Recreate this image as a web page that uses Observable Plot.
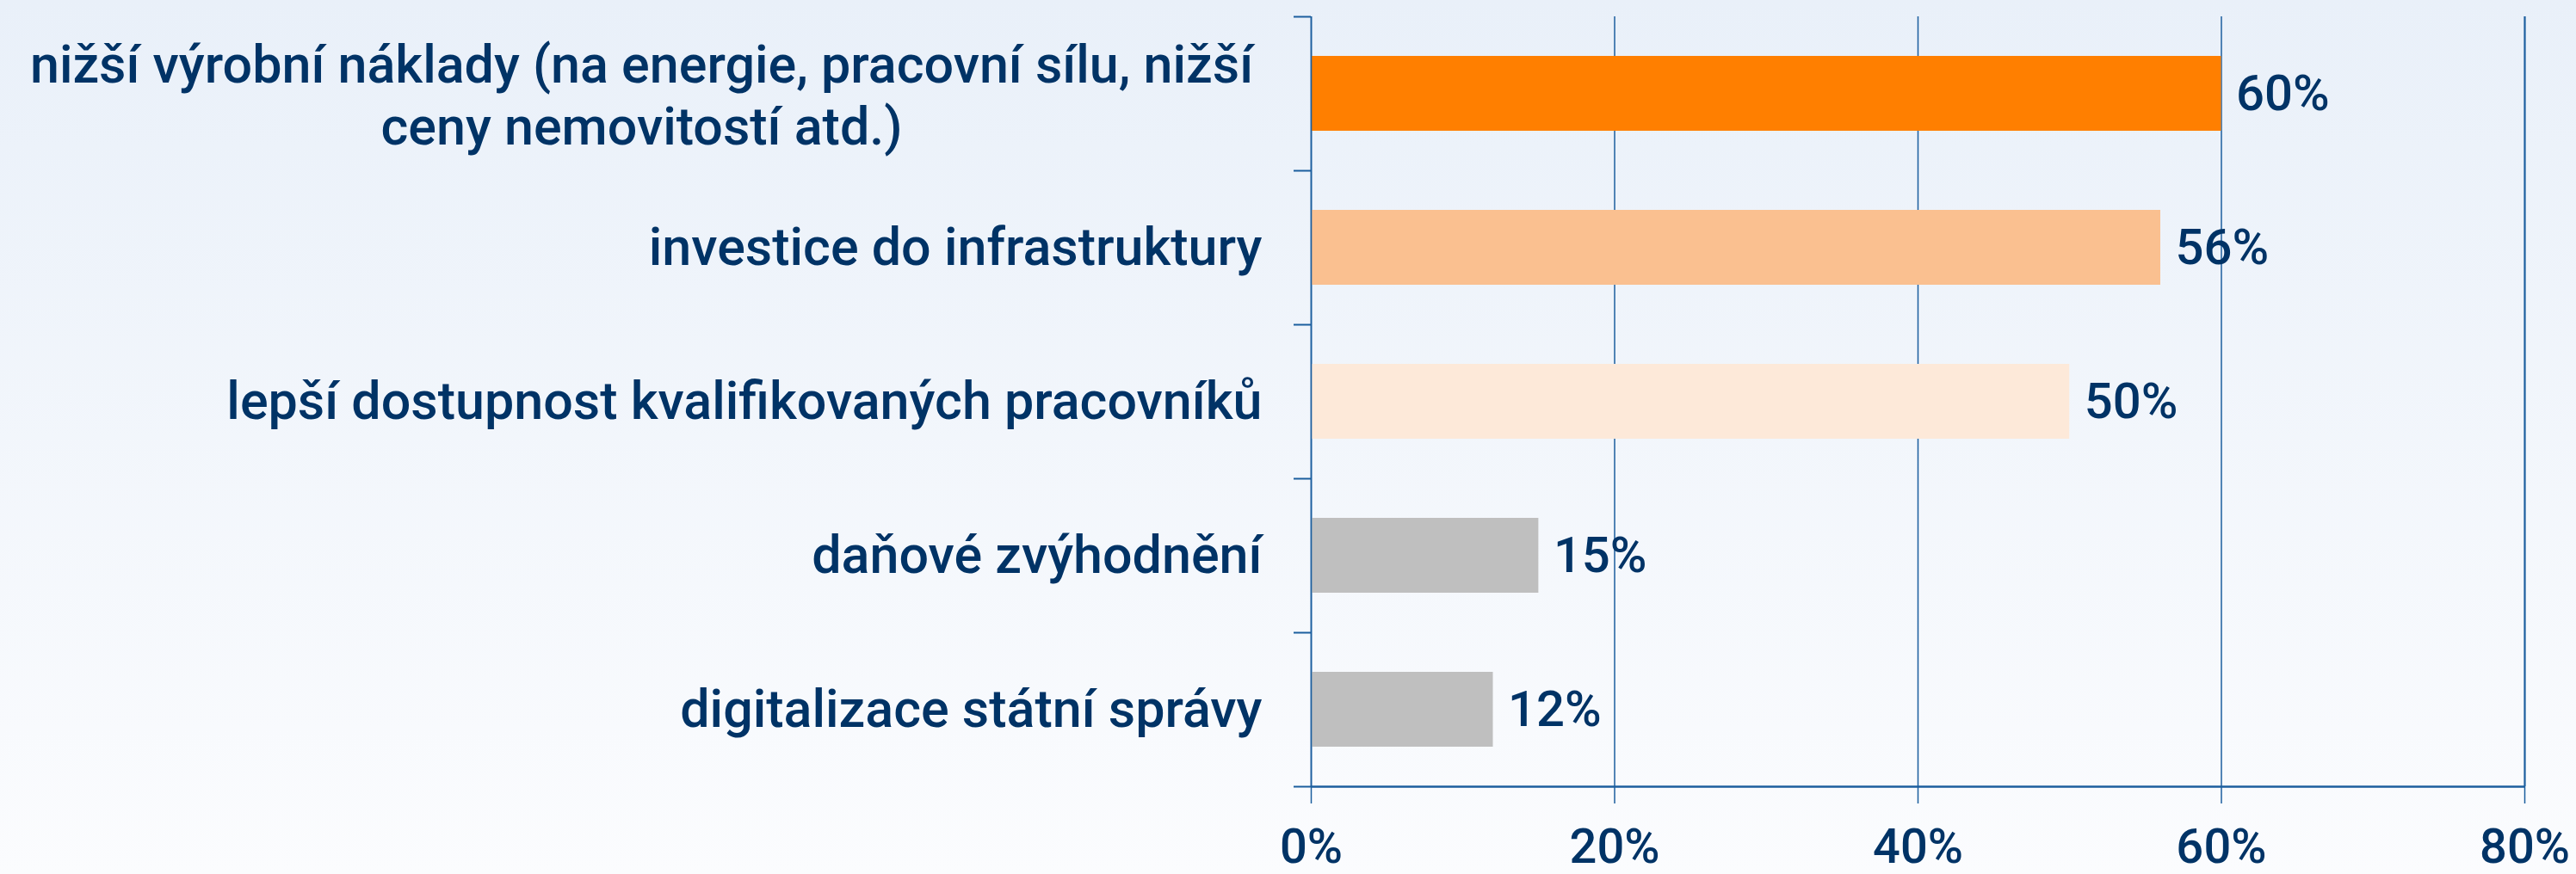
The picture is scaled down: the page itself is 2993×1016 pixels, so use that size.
<!DOCTYPE html>
<html>
<head>
<meta charset="utf-8">
<script src="https://cdn.jsdelivr.net/npm/d3@7"></script>
<script src="https://cdn.jsdelivr.net/npm/@observablehq/plot@0.6"></script>
<style>
  html, body { margin: 0; padding: 0; }
  body {
    width: 2993px; height: 1016px; overflow: hidden;
    background: linear-gradient(to bottom, #e9f0f9 0%, #fbfcfe 100%);
  }
  #chart svg { display: block; }
</style>
</head>
<body>
<div id="chart"></div>
<script>
// ---- data ----
const categories = [
  "nižší výrobní náklady (na energie, pracovní sílu, nižší\nceny nemovitostí atd.)",
  "investice do infrastruktury",
  "lepší dostupnost kvalifikovaných pracovníků",
  "daňové zvýhodnění",
  "digitalizace státní správy"
];
const values = [60, 56, 50, 15, 12];
const xTicks = [0, 20, 40, 60, 80];

// ---- styles ----
const palette = ["#ff7f00", "#fac090", "#fde9d9", "#bfbfbf", "#bfbfbf"];
const axisColor = "#1b5e9e";
const textColor = "#003366";
const font = "Roboto, 'Noto Sans', sans-serif";
const gap = 0.257;

const data = categories.map((category, i) => ({ category, value: values[i], i }));
const bandEdges = d3.range(categories.length + 1);

const chart = Plot.plot({
  width: 2993,
  height: 1016,
  marginLeft: 1523,
  marginRight: 60,
  marginTop: 19,
  marginBottom: 102,
  style: { background: "transparent", fontFamily: font, color: textColor, overflow: "visible" },
  x: { domain: [0, 80] },
  y: { domain: [0, categories.length], reverse: true },
  color: { type: "identity" },
  marks: [
    // vertical gridlines
    Plot.ruleX(xTicks, { y1: 0, y2: categories.length, stroke: axisColor, strokeWidth: d => d === 80 ? 2.2 : 1.5 }),
    // x axis ticks + labels
    Plot.axisX({
      ticks: xTicks, tickFormat: d => d + "%", tickSize: 20, tickPadding: 29,
      stroke: axisColor, strokeWidth: 1.5, fill: textColor, fontSize: 56, fontWeight: 500, label: null
    }),
    // y-axis ticks at category boundaries
    Plot.axisY({
      ticks: bandEdges, tickFormat: () => "", tickSize: 20,
      stroke: axisColor, strokeWidth: 2, label: null
    }),
    // bars
    Plot.rect(data, {
      x1: 0, x2: "value",
      y1: d => d.i + gap, y2: d => d.i + 1 - gap,
      fill: d => palette[d.i]
    }),
    // axis lines
    Plot.ruleX([0], { y1: 0, y2: categories.length, stroke: axisColor, strokeWidth: 1.6 }),
    Plot.ruleY([categories.length], { x1: 0, x2: 80, stroke: axisColor, strokeWidth: 2.5 }),
    // value labels
    Plot.text(data, {
      x: "value", y: d => d.i + 0.5, text: d => d.value + "%",
      textAnchor: "start", dx: 17, fontSize: 58, fontWeight: 500, fill: textColor
    }),
    // category labels (single line, right-aligned)
    Plot.text(data.filter(d => !d.category.includes("\n")), {
      x: 0, y: d => d.i + 0.5, text: "category",
      textAnchor: "end", dx: -57, fontSize: 61, fontWeight: 500, fill: textColor
    }),
    // category labels (wrapped, centered)
    Plot.text(data.filter(d => d.category.includes("\n")), {
      x: 0, y: d => d.i + 0.5, text: "category",
      textAnchor: "middle", dx: -778, fontSize: 61, fontWeight: 500, lineHeight: 1.17, fill: textColor
    })
  ]
});
document.getElementById("chart").appendChild(chart);
</script>
</body>
</html>
